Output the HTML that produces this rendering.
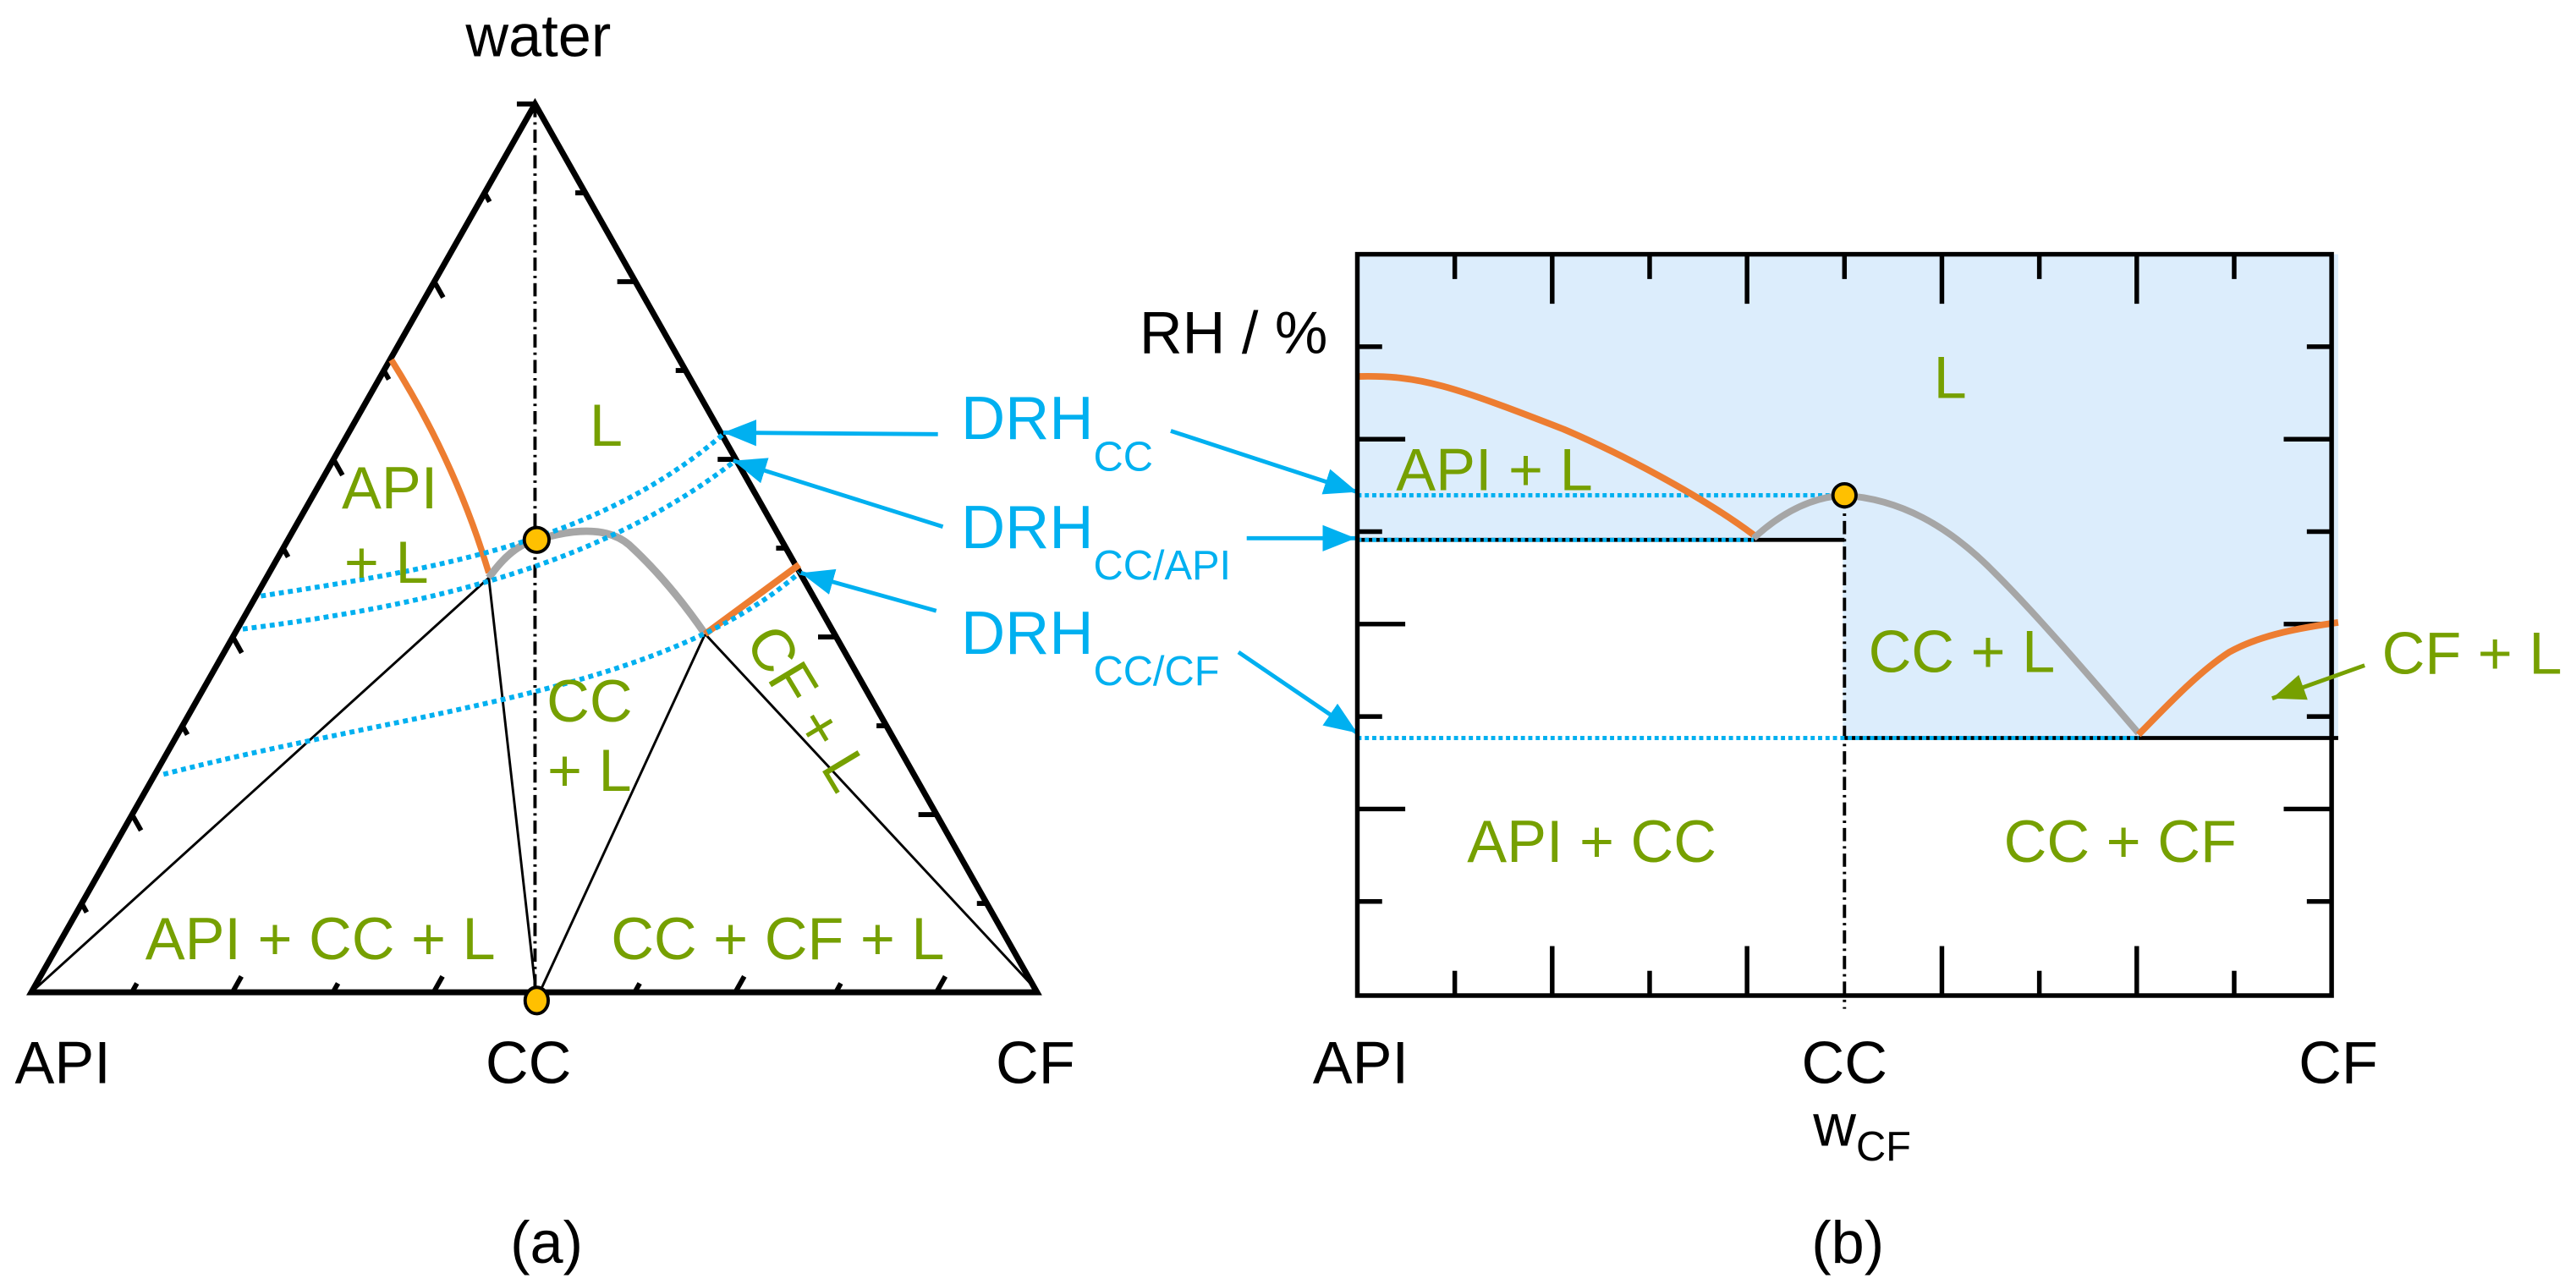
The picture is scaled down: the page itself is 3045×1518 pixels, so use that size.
<!DOCTYPE html>
<html><head><meta charset="utf-8"><style>
html,body{margin:0;padding:0;background:#fff;}
svg{display:block}
text{font-family:"Liberation Sans",sans-serif;}
</style></head><body>
<svg width="3045" height="1518" viewBox="0 0 1560 777.7" preserveAspectRatio="none" xmlns="http://www.w3.org/2000/svg">
<defs>
<marker id="ab" markerUnits="userSpaceOnUse" markerWidth="22" markerHeight="18" refX="20" refY="8" orient="auto"><path d="M0,0 L20,8 L0,16 z" fill="#00b0f0"/></marker>
<marker id="ag" markerUnits="userSpaceOnUse" markerWidth="22" markerHeight="18" refX="20" refY="8" orient="auto"><path d="M0,0 L20,8 L0,16 z" fill="#76a000"/></marker>
</defs>

<line x1="324" y1="63" x2="324" y2="616" stroke="#000" stroke-width="2" stroke-dasharray="8 3 1.5 3"/>
<g stroke="#000" stroke-width="1.5" fill="none">
<line x1="19" y1="601" x2="296" y2="350"/>
<line x1="296" y1="350" x2="325" y2="605"/>
<line x1="325" y1="605" x2="427" y2="384"/>
<line x1="427" y1="384" x2="628" y2="600"/>
</g>
<polygon points="324,63 19,601 628,601" fill="none" stroke="#000" stroke-width="3.6" stroke-linejoin="miter"/>
<g stroke="#000" stroke-width="3">
<line x1="79.9" y1="601" x2="82.9" y2="595.6"/>
<line x1="140.8" y1="601" x2="146.2" y2="591.4"/>
<line x1="201.7" y1="601" x2="204.7" y2="595.6"/>
<line x1="262.6" y1="601" x2="268" y2="591.4"/>
<line x1="384.4" y1="601" x2="387.4" y2="595.6"/>
<line x1="445.3" y1="601" x2="450.7" y2="591.4"/>
<line x1="506.2" y1="601" x2="509.2" y2="595.6"/>
<line x1="567.1" y1="601" x2="572.5" y2="591.4"/>
<line x1="49.5" y1="547.2" x2="52.5" y2="552.6"/>
<line x1="80" y1="493.4" x2="85.4" y2="503"/>
<line x1="110.5" y1="439.6" x2="113.5" y2="445"/>
<line x1="141" y1="385.8" x2="146.4" y2="395.4"/>
<line x1="171.5" y1="332" x2="174.5" y2="337.4"/>
<line x1="202" y1="278.2" x2="207.4" y2="287.8"/>
<line x1="232.5" y1="224.4" x2="235.5" y2="229.8"/>
<line x1="263" y1="170.6" x2="268.4" y2="180.2"/>
<line x1="293.5" y1="116.8" x2="296.5" y2="122.2"/>
<line x1="597.6" y1="547.2" x2="591.6" y2="547.2"/>
<line x1="567.2" y1="493.4" x2="556.2" y2="493.4"/>
<line x1="536.8" y1="439.6" x2="530.8" y2="439.6"/>
<line x1="506.4" y1="385.8" x2="495.4" y2="385.8"/>
<line x1="476" y1="332" x2="470" y2="332"/>
<line x1="445.6" y1="278.2" x2="434.6" y2="278.2"/>
<line x1="415.2" y1="224.4" x2="409.2" y2="224.4"/>
<line x1="384.8" y1="170.6" x2="373.8" y2="170.6"/>
<line x1="354.4" y1="116.8" x2="348.4" y2="116.8"/>
<line x1="324" y1="63" x2="313" y2="63"/>
</g>
<path d="M237,218 Q276,280 296,347" fill="none" stroke="#ed7d31" stroke-width="3.8"/>
<path d="M296,350 Q310,330 325,327 C345,321 367,318 381,330 Q405,352 427,384" fill="none" stroke="#a6a6a6" stroke-width="4.5"/>
<line x1="427" y1="384" x2="484" y2="342" stroke="#ed7d31" stroke-width="4"/>
<g fill="none" stroke="#00b0f0" stroke-width="3" stroke-dasharray="3 2.5">
<path d="M158,361 C260,345 360,330 438,263"/>
<path d="M147,381 C250,368 360,345 444,280"/>
<path d="M99,469 C250,430 400,420 484,347"/>
</g>
<circle cx="325" cy="327" r="7.5" fill="#ffc000" stroke="#000" stroke-width="2"/>
<ellipse cx="325" cy="606" rx="7" ry="8" fill="#ffc000" stroke="#000" stroke-width="2"/>
<g fill="#76a000" font-size="36" text-anchor="middle">
<text x="367" y="270">L</text>
<text x="236" y="308">API</text>
<text x="234" y="353">+ L</text>
<text x="357" y="437">CC</text>
<text x="357" y="479">+ L</text>
<text x="194" y="581">API + CC + L</text>
<text x="471" y="581">CC + CF + L</text>
<text x="489" y="441" transform="rotate(59 489 429)">CF + L</text>
</g>
<g fill="#000" font-size="36" text-anchor="middle">
<text x="326" y="34">water</text>
<text x="38" y="656">API</text>
<text x="320" y="656">CC</text>
<text x="627" y="656">CF</text>
<text x="331" y="765">(a)</text>
</g>

<g fill="#00b0f0">
<text x="582" y="266" font-size="37">DRH<tspan font-size="25" dy="19">CC</tspan></text>
<text x="582" y="332" font-size="37">DRH<tspan font-size="25" dy="19">CC/API</tspan></text>
<text x="582" y="396" font-size="37">DRH<tspan font-size="25" dy="19">CC/CF</tspan></text>
</g>
<g stroke="#00b0f0" stroke-width="2.5" fill="none">
<line x1="568" y1="263" x2="438" y2="262" marker-end="url(#ab)"/>
<line x1="571" y1="319" x2="444" y2="279" marker-end="url(#ab)"/>
<line x1="567" y1="370" x2="485" y2="347" marker-end="url(#ab)"/>
<line x1="709" y1="261" x2="822" y2="298" marker-end="url(#ab)"/>
<line x1="755" y1="326" x2="821" y2="326" marker-end="url(#ab)"/>
<line x1="750" y1="395" x2="822" y2="444" marker-end="url(#ab)"/>
</g>

<path d="M822,154 H1416 V447 H1116 V327 H822 Z" fill="#dcedfc"/>
<g stroke="#000" stroke-width="2.8">
<line x1="881" y1="154" x2="881" y2="169"/><line x1="881" y1="603" x2="881" y2="588"/>
<line x1="940" y1="154" x2="940" y2="184"/><line x1="940" y1="603" x2="940" y2="573"/>
<line x1="999" y1="154" x2="999" y2="169"/><line x1="999" y1="603" x2="999" y2="588"/>
<line x1="1058" y1="154" x2="1058" y2="184"/><line x1="1058" y1="603" x2="1058" y2="573"/>
<line x1="1117" y1="154" x2="1117" y2="169"/>
<line x1="1176" y1="154" x2="1176" y2="184"/><line x1="1176" y1="603" x2="1176" y2="573"/>
<line x1="1235" y1="154" x2="1235" y2="169"/><line x1="1235" y1="603" x2="1235" y2="588"/>
<line x1="1294" y1="154" x2="1294" y2="184"/><line x1="1294" y1="603" x2="1294" y2="573"/>
<line x1="1353" y1="154" x2="1353" y2="169"/><line x1="1353" y1="603" x2="1353" y2="588"/>
<line x1="822" y1="210" x2="837" y2="210"/><line x1="1412" y1="210" x2="1397" y2="210"/>
<line x1="822" y1="266" x2="851" y2="266"/><line x1="1412" y1="266" x2="1383" y2="266"/>
<line x1="822" y1="322" x2="837" y2="322"/><line x1="1412" y1="322" x2="1397" y2="322"/>
<line x1="822" y1="378" x2="851" y2="378"/><line x1="1412" y1="378" x2="1383" y2="378"/>
<line x1="822" y1="434" x2="837" y2="434"/><line x1="1412" y1="434" x2="1397" y2="434"/>
<line x1="822" y1="490" x2="851" y2="490"/><line x1="1412" y1="490" x2="1383" y2="490"/>
<line x1="822" y1="546" x2="837" y2="546"/><line x1="1412" y1="546" x2="1397" y2="546"/>
</g>
<line x1="822" y1="327" x2="1117" y2="327" stroke="#000" stroke-width="2.4"/>
<line x1="1117" y1="447" x2="1416" y2="447" stroke="#000" stroke-width="2.4"/>
<line x1="1117" y1="300" x2="1117" y2="611" stroke="#000" stroke-width="2" stroke-dasharray="8 3 1.5 3"/>
<g stroke="#00b0f0" stroke-width="2.6" stroke-dasharray="2.5 2">
<line x1="822" y1="300" x2="1117" y2="300"/>
<line x1="822" y1="327" x2="1062" y2="327"/>
<line x1="822" y1="447" x2="1295" y2="447"/>
</g>
<path d="M822,228 C860,227 880,234 947,260 C980,274 1030,300 1062,324" fill="none" stroke="#ed7d31" stroke-width="4"/>
<path d="M1062,326 Q1088,302 1116,300 C1150,302 1180,318 1209,348 C1235,374 1270,415 1295,444" fill="none" stroke="#a6a6a6" stroke-width="4"/>
<path d="M1295,445 C1310,430 1330,408 1350,395 C1370,384 1395,380 1416,377" fill="none" stroke="#ed7d31" stroke-width="4"/>
<rect x="822" y="154" width="590" height="449" fill="none" stroke="#000" stroke-width="2.8"/>
<circle cx="1117" cy="300" r="7" fill="#ffc000" stroke="#000" stroke-width="2"/>
<line x1="1432" y1="403" x2="1376" y2="423" stroke="#76a000" stroke-width="2.5" marker-end="url(#ag)"/>
<g fill="#76a000" font-size="36" text-anchor="middle">
<text x="1181" y="241">L</text>
<text x="905" y="297">API + L</text>
<text x="1188" y="407">CC + L</text>
<text x="964" y="522">API + CC</text>
<text x="1284" y="522">CC + CF</text>
<text x="1497" y="408">CF + L</text>
</g>
<g fill="#000" font-size="36">
<text x="804" y="214" text-anchor="end">RH / %</text>
<text x="824" y="656" text-anchor="middle">API</text>
<text x="1117" y="656" text-anchor="middle">CC</text>
<text x="1416" y="656" text-anchor="middle">CF</text>
<text x="1098" y="694">w<tspan font-size="25" dy="9">CF</tspan></text>
<text x="1119" y="765" text-anchor="middle">(b)</text>
</g>
</svg>
</body></html>
